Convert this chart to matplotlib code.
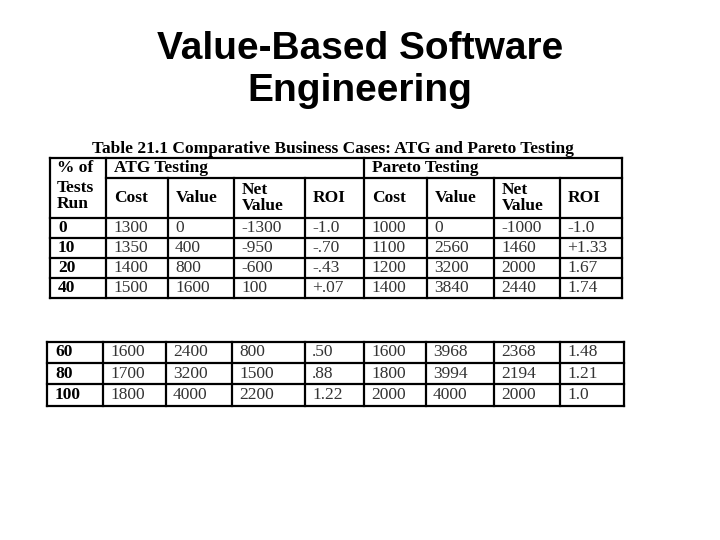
import matplotlib
matplotlib.use("Agg")
import matplotlib.pyplot as plt

title = "Value-Based Software\nEngineering"
caption = "Table 21.1 Comparative Business Cases: ATG and Pareto Testing"
groups = ["ATG Testing", "Pareto Testing"]
subheads = ["Cost", "Value", "Net\nValue", "ROI", "Cost", "Value", "Net\nValue", "ROI"]
runs = ["0", "10", "20", "40", "60", "80", "100"]
rows = [
    ["1300", "0", "-1300", "-1.0", "1000", "0", "-1000", "-1.0"],
    ["1350", "400", "-950", "-.70", "1100", "2560", "1460", "+1.33"],
    ["1400", "800", "-600", "-.43", "1200", "3200", "2000", "1.67"],
    ["1500", "1600", "100", "+.07", "1400", "3840", "2440", "1.74"],
    ["1600", "2400", "800", ".50", "1600", "3968", "2368", "1.48"],
    ["1700", "3200", "1500", ".88", "1800", "3994", "2194", "1.21"],
    ["1800", "4000", "2200", "1.22", "2000", "4000", "2000", "1.0"],
]

W, H = 720, 540
fig = plt.figure(figsize=(7.2, 5.4), dpi=100)
ax = fig.add_axes([0, 0, 1, 1])
ax.set_xlim(0, W); ax.set_ylim(H, 0); ax.axis("off")

ax.text(360, 70, title, ha="center", va="center", fontsize=28, fontweight="bold",
        family="Liberation Sans", linespacing=1.2)
ax.text(333, 149, caption, ha="center", va="center", fontsize=12.5, fontweight="bold",
        family="Liberation Serif")

SERIF = "Liberation Serif"
FS = 12.5
def hl(y, x0, x1, lw=1.6):
    ax.plot([x0, x1], [y, y], color="black", lw=lw, solid_capstyle="projecting")
def vl(x, y0, y1, lw=1.6):
    ax.plot([x, x], [y0, y1], color="black", lw=lw, solid_capstyle="projecting")

# Table 1
c1 = [50, 106, 168, 234, 305, 364, 427, 494, 560, 622]
r1 = [158, 178, 218, 238, 258, 278, 298]
hl(r1[0], c1[0], c1[-1]); hl(r1[-1], c1[0], c1[-1])
hl(r1[1], c1[1], c1[-1])
for y in r1[2:-1]:
    hl(y, c1[0], c1[-1])
vl(c1[0], r1[0], r1[-1]); vl(c1[-1], r1[0], r1[-1])
vl(c1[1], r1[0], r1[-1]); vl(c1[5], r1[0], r1[-1])
for i in [2, 3, 4, 6, 7, 8]:
    vl(c1[i], r1[1], r1[-1])
ax.text(c1[0] + 7, (r1[0] + r1[1]) / 2, "% of", ha="left", va="center", fontsize=FS, fontweight="bold", family=SERIF)
ax.text(c1[0] + 7, (r1[1] + r1[2]) / 2 - 2, "Tests\nRun", ha="left", va="center", fontsize=FS, fontweight="bold", family=SERIF, linespacing=0.95)
ax.text(c1[1] + 8, (r1[0] + r1[1]) / 2, groups[0], ha="left", va="center", fontsize=FS, fontweight="bold", family=SERIF)
ax.text(c1[5] + 8, (r1[0] + r1[1]) / 2, groups[1], ha="left", va="center", fontsize=FS, fontweight="bold", family=SERIF)
for j, s in enumerate(subheads):
    ax.text(c1[j + 1] + 8, (r1[1] + r1[2]) / 2, s, ha="left", va="center", fontsize=FS,
            fontweight="bold", family=SERIF, linespacing=0.95)

def data_rows(cols, ys, idx):
    for k, ri in enumerate(idx):
        yc = (ys[k] + ys[k + 1]) / 2
        ax.text(cols[0] + 8, yc, runs[ri], ha="left", va="center", fontsize=FS, fontweight="bold", family=SERIF)
        for j, v in enumerate(rows[ri]):
            ax.text(cols[j + 1] + 7, yc, v, ha="left", va="center", fontsize=FS, family=SERIF, color="#333333")

data_rows(c1, r1[2:], [0, 1, 2, 3])

# Table 2
c2 = [47, 103, 166, 232, 305, 364, 426, 494, 560, 624]
r2 = [342, 363, 384, 406]
for y in r2:
    hl(y, c2[0], c2[-1])
for x in c2:
    vl(x, r2[0], r2[-1])
data_rows(c2, r2, [4, 5, 6])

fig.savefig("out.png", dpi=100, facecolor="white")
